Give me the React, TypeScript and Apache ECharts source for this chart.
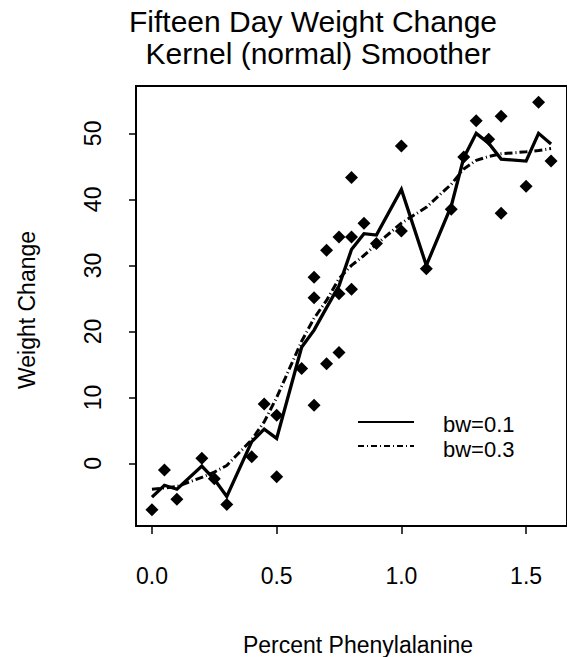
import React, { useEffect, useRef } from "react";
import * as echarts from "echarts";

// observed data (Percent Phenylalanine vs Weight Change)
const pointX = [0, 0.05, 0.1, 0.2, 0.25, 0.3, 0.4, 0.45, 0.5, 0.5, 0.6, 0.65, 0.65, 0.65, 0.7, 0.7, 0.75, 0.75, 0.75, 0.8, 0.8, 0.8, 0.85, 0.9, 1.0, 1.0, 1.1, 1.2, 1.25, 1.3, 1.35, 1.4, 1.4, 1.5, 1.55, 1.6];
const pointY = [-7.0, -1.0, -5.4, 0.8, -2.3, -6.2, 1.0, 9.0, 7.3, -2.0, 14.4, 28.2, 25.1, 8.8, 32.3, 15.1, 34.3, 25.7, 16.8, 43.3, 34.3, 26.4, 36.4, 33.3, 48.1, 35.2, 29.5, 38.5, 46.4, 51.9, 49.1, 52.6, 37.9, 42.0, 54.7, 45.8];

// kernel smoother evaluation points and fitted values
const smoothX = [0, 0.05, 0.1, 0.2, 0.25, 0.3, 0.4, 0.45, 0.5, 0.6, 0.65, 0.7, 0.75, 0.8, 0.85, 0.9, 1.0, 1.1, 1.2, 1.25, 1.3, 1.35, 1.4, 1.5, 1.55, 1.6];
const bw01 = [-5.1, -3.3, -3.9, -0.4, -2.4, -5.0, 3.3, 5.2, 3.8, 17.6, 20.2, 23.6, 26.9, 32.4, 34.8, 34.6, 41.5, 30.0, 39.0, 46.3, 50.0, 48.5, 46.1, 45.8, 50.0, 48.4];
const bw03 = [-3.9, -3.7, -3.5, -2.1, -1.3, -0.3, 3.6, 6.3, 10.0, 18.5, 22.0, 24.7, 28.0, 30.0, 31.5, 33.2, 36.4, 38.8, 42.3, 44.6, 45.9, 46.5, 46.9, 47.2, 47.4, 47.7];

const xTicks = [0, 0.5, 1.0, 1.5];
const yTicks = [0, 10, 20, 30, 40, 50];
const legendLabels = ["bw=0.1", "bw=0.3"];
const titleLines = ["Fifteen Day Weight Change", " Kernel (normal) Smoother"];
const xTitle = "Percent Phenylalanine";
const yTitle = "Weight Change";

const FONT = "'Liberation Sans', Arial, Helvetica, sans-serif";
const DASHDOT = [8, 3, 1, 3];

export default function App() {
  const ref = useRef<HTMLDivElement>(null);
  useEffect(() => {
    if (!ref.current) return;
    const chart = echarts.init(ref.current, null, { renderer: "svg" });
    const option: any = {
      animation: false,
      backgroundColor: "#fff",
      textStyle: { fontFamily: FONT },
      grid: {
        left: 136,
        top: 86,
        width: 440,
        height: 440,
        show: true,
        borderColor: "#000",
        borderWidth: 2,
        backgroundColor: "transparent",
      },
      xAxis: {
        type: "value",
        min: -0.064,
        max: 1.664,
        axisLine: { show: false, onZero: false },
        splitLine: { show: false },
        axisTick: { show: true, length: 8, lineStyle: { color: "#000", width: 1.5 }, customValues: xTicks },
        axisLabel: {
          customValues: xTicks,
          formatter: (v: number) => v.toFixed(1),
          color: "#000",
          fontSize: 23,
          fontFamily: FONT,
          margin: 38,
        },
      },
      yAxis: {
        type: "value",
        min: -9.47,
        max: 57.17,
        axisLine: { show: false, onZero: false },
        splitLine: { show: false },
        axisTick: { show: true, length: 7, lineStyle: { color: "#000", width: 1.5 }, customValues: yTicks },
        axisLabel: {
          customValues: yTicks,
          formatter: (v: number) => String(v),
          color: "#000",
          fontSize: 23,
          fontFamily: FONT,
          rotate: 90,
          margin: 32,
        },
      },
      series: [
        {
          type: "scatter",
          data: pointX.map((x, i) => [x, pointY[i]]),
          symbol: "diamond",
          symbolSize: 13,
          itemStyle: { color: "#000", opacity: 1 },
          z: 3,
        },
        {
          type: "line",
          data: smoothX.map((x, i) => [x, bw01[i]]),
          symbol: "none",
          lineStyle: { color: "#000", width: 3.3, join: "miter" },
          z: 4,
        },
        {
          type: "line",
          data: smoothX.map((x, i) => [x, bw03[i]]),
          symbol: "none",
          lineStyle: { color: "#000", width: 3, type: DASHDOT },
          z: 4,
        },
      ],
      graphic: [
        {
          type: "text",
          x: 313,
          y: 21,
          style: { text: titleLines[0], fontSize: 30, fontFamily: FONT, fill: "#000", textAlign: "center", textVerticalAlign: "middle" },
        },
        {
          type: "text",
          x: 314,
          y: 53,
          style: { text: titleLines[1], fontSize: 30, fontFamily: FONT, fill: "#000", textAlign: "center", textVerticalAlign: "middle" },
        },
        {
          type: "text",
          x: 358,
          y: 645,
          style: { text: xTitle, fontSize: 23, fontFamily: FONT, fill: "#000", textAlign: "center", textVerticalAlign: "middle" },
        },
        {
          type: "text",
          x: 27,
          y: 310,
          rotation: Math.PI / 2,
          style: { text: yTitle, fontSize: 23, fontFamily: FONT, fill: "#000", textAlign: "center", textVerticalAlign: "middle" },
        },
        {
          type: "line",
          shape: { x1: 358, y1: 422, x2: 414, y2: 422 },
          style: { stroke: "#000", lineWidth: 1.8 },
        },
        {
          type: "line",
          shape: { x1: 358, y1: 446, x2: 414, y2: 446 },
          style: { stroke: "#000", lineWidth: 1.8, lineDash: [6, 3, 1, 3] },
        },
        {
          type: "text",
          x: 443,
          y: 424,
          style: { text: legendLabels[0], fontSize: 22, fontFamily: FONT, fill: "#000", textAlign: "left", textVerticalAlign: "middle" },
        },
        {
          type: "text",
          x: 443,
          y: 449,
          style: { text: legendLabels[1], fontSize: 22, fontFamily: FONT, fill: "#000", textAlign: "left", textVerticalAlign: "middle" },
        },
      ],
    };
    chart.setOption(option);
    return () => chart.dispose();
  }, []);
  return (
    <div
      ref={ref}
      style={{ position: "fixed", left: 0, top: 0, width: 567, height: 657, background: "#fff" }}
    />
  );
}
